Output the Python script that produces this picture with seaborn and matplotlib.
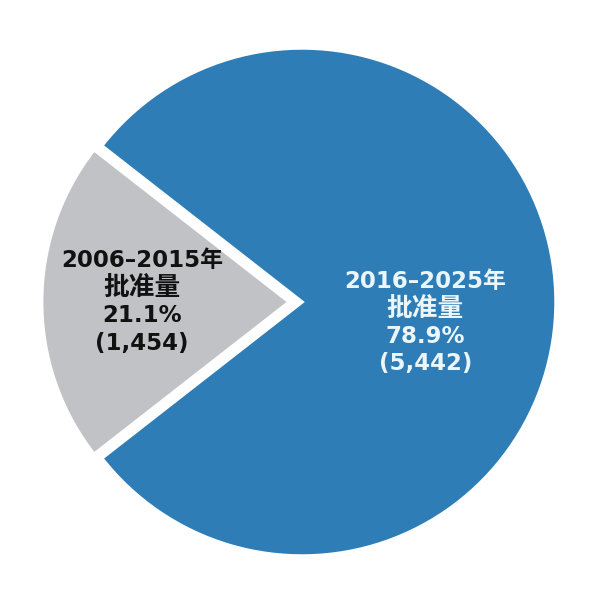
import numpy as np
import seaborn as sns
import matplotlib
matplotlib.use("Agg")
import matplotlib.pyplot as plt

periods = ["2006–2015", "2016–2025"]
counts = [1454, 5442]
colors = ["#c0c2c5", "#2e7db6"]
text_colors = ["#111111", "#eaf6fa"]

sns.set_theme(style="white")
plt.rcParams['font.family'] = ['DejaVu Sans', 'Noto Sans CJK SC']

fig = plt.figure(figsize=(6.07, 6.06), dpi=100)
ax = fig.add_axes([0, 0, 1, 1])

share = np.array(counts) / sum(counts) * 100
start = 180 - share[0] / 100 * 360 / 2   # grey slice centred on the left

wedges, _ = ax.pie(counts, colors=colors, explode=[0.05, 0], startangle=start,
                   counterclock=True, wedgeprops=dict(edgecolor="white", linewidth=2.5))
wedges[0].set_radius(0.975)

# label positions (data units, radius = 1), one text per line
label_xy = [(-0.63, 0.0), (0.485, -0.08)]
step = 0.108
for p, c, s, tc, (x, y) in zip(periods, counts, share, text_colors, label_xy):
    lines = [f"{p}年", "批准量", f"{s:.1f}%", f"({c:,})"]
    sizes = [16.5, 18.5, 16.5, 16.5]
    for i, (t, fs) in enumerate(zip(lines, sizes)):
        ax.text(x, y + (1.5 - i) * step, t, ha="center", va="center",
                fontsize=fs, fontweight="bold", color=tc)

ax.set_aspect("auto")
ax.set_xlim(-302 / 254, 305 / 254)
ax.set_ylim(-304 / 254, 302 / 254)
ax.axis("off")

fig.savefig("out.png", dpi=100, facecolor="white")
